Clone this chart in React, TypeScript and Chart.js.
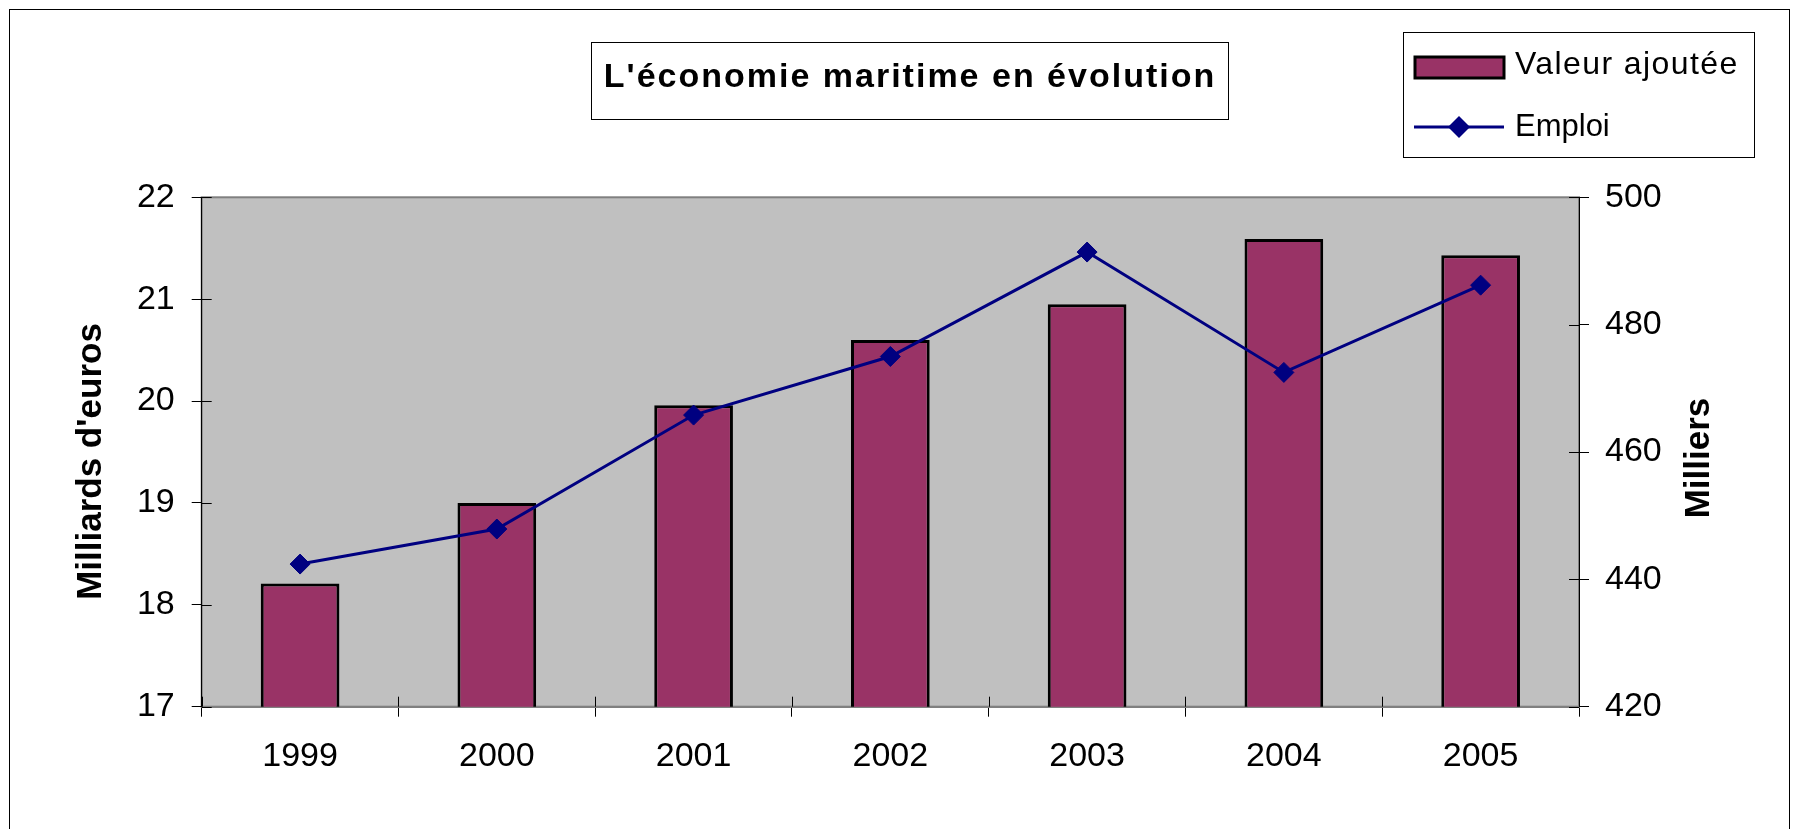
import React, { useEffect, useRef } from 'react';
import { Chart, registerables } from 'chart.js';

Chart.register(...registerables);

const years = ['1999', '2000', '2001', '2002', '2003', '2004', '2005'];
const valeurAjoutee = [18.21, 19.0, 19.96, 20.6, 20.95, 21.59, 21.43];
const emploi = [442.4, 447.9, 465.8, 475.0, 491.4, 472.5, 486.2];
const leftTicks = [17, 18, 19, 20, 21, 22];
const rightTicks = [420, 440, 460, 480, 500];
const seriesNames = ['Valeur ajoutée', 'Emploi'];
const chartTitle = "L'économie maritime en évolution";
const leftAxisTitle = "Milliards d'euros";
const rightAxisTitle = 'Milliers';

const FONT = "'Liberation Sans', Arial, sans-serif";
const BAR_COLOR = '#993366';
const LINE_COLOR = '#000080';
const PLOT_BG = '#C0C0C0';
const W = 1779;
const H = 820;

const decor = {
  id: 'decor',
  beforeDraw(chart: any) {
    const { ctx, chartArea: a } = chart;
    ctx.save();
    ctx.fillStyle = PLOT_BG;
    ctx.fillRect(a.left, a.top, a.right - a.left, a.bottom - a.top);
    ctx.strokeStyle = '#808080';
    ctx.lineWidth = 2;
    ctx.strokeRect(a.left, a.top, a.right - a.left, a.bottom - a.top);
    ctx.restore();
  },
  beforeDatasetsDraw(chart: any) {
    const { ctx, chartArea: a, scales } = chart;
    ctx.save();
    ctx.strokeStyle = '#000';
    ctx.lineWidth = 1;
    ctx.beginPath();
    scales.y.ticks.forEach((t: any) => {
      const p = Math.round(scales.y.getPixelForValue(t.value)) + 0.5;
      ctx.moveTo(a.left, p);
      ctx.lineTo(a.left + 10, p);
    });
    scales.y1.ticks.forEach((t: any) => {
      const p = Math.round(scales.y1.getPixelForValue(t.value)) + 0.5;
      ctx.moveTo(a.right - 10, p);
      ctx.lineTo(a.right, p);
    });
    for (let i = 0; i <= years.length; i++) {
      const p = Math.round(scales.x.getPixelForValue(i - 0.5)) + 0.5;
      ctx.moveTo(p, a.bottom - 10);
      ctx.lineTo(p, a.bottom);
    }
    ctx.stroke();
    ctx.restore();
  },
  afterDraw(chart: any) {
    const { ctx, scales } = chart;
    ctx.save();

    // Title box
    ctx.fillStyle = '#fff';
    ctx.fillRect(581, 32, 637, 77);
    ctx.strokeStyle = '#000';
    ctx.lineWidth = 1;
    ctx.strokeRect(581.5, 32.5, 637, 77);
    ctx.fillStyle = '#000';
    ctx.font = `bold 34px ${FONT}`;
    (ctx as any).letterSpacing = '2px';
    ctx.textAlign = 'center';
    ctx.textBaseline = 'alphabetic';
    ctx.fillText(chartTitle, 900, 77);
    (ctx as any).letterSpacing = '0px';

    // Legend box
    ctx.fillStyle = '#fff';
    ctx.fillRect(1393, 22, 351, 125);
    ctx.strokeStyle = '#000';
    ctx.lineWidth = 1;
    ctx.strokeRect(1393.5, 22.5, 351, 125);
    // bar swatch
    ctx.fillStyle = BAR_COLOR;
    ctx.fillRect(1405, 47, 89, 21);
    ctx.strokeStyle = '#000';
    ctx.lineWidth = 3;
    ctx.strokeRect(1405, 47, 89, 21);
    // line swatch
    ctx.strokeStyle = LINE_COLOR;
    ctx.lineWidth = 3;
    ctx.beginPath();
    ctx.moveTo(1404, 117);
    ctx.lineTo(1494, 117);
    ctx.stroke();
    ctx.fillStyle = LINE_COLOR;
    ctx.beginPath();
    ctx.moveTo(1449, 106);
    ctx.lineTo(1460, 117);
    ctx.lineTo(1449, 128);
    ctx.lineTo(1438, 117);
    ctx.closePath();
    ctx.fill();
    ctx.fillStyle = '#000';
    ctx.textAlign = 'left';
    ctx.font = `32px ${FONT}`;
    (ctx as any).letterSpacing = '1.4px';
    ctx.fillText(seriesNames[0], 1505, 64);
    (ctx as any).letterSpacing = '0px';
    ctx.font = `31px ${FONT}`;
    ctx.fillText(seriesNames[1], 1505, 126);

    // Axis titles
    ctx.font = `bold 35px ${FONT}`;
    ctx.textAlign = 'center';
    ctx.textBaseline = 'middle';
    const y = scales.y;
    ctx.save();
    ctx.translate(81.5, (y.top + y.bottom) / 2 + 9.5);
    ctx.rotate(-Math.PI / 2);
    ctx.fillText(leftAxisTitle, 0, 0);
    ctx.restore();

    const y1 = scales.y1;
    ctx.translate(y1.left + 120.5, (y1.top + y1.bottom) / 2 + 6);
    ctx.rotate(-Math.PI / 2);
    ctx.fillText(rightAxisTitle, 0, 0);
    ctx.restore();
  },
};

export default function App() {
  const ref = useRef<HTMLCanvasElement>(null);

  useEffect(() => {
    if (!ref.current) return;
    const tickFont = { family: FONT, size: 34 };
    const chart = new Chart(ref.current, {
      type: 'bar',
      data: {
        labels: years,
        datasets: [
          {
            type: 'line',
            label: seriesNames[1],
            data: emploi,
            yAxisID: 'y1',
            borderColor: LINE_COLOR,
            borderWidth: 3,
            pointStyle: 'rectRot',
            pointRadius: 10,
            pointBackgroundColor: LINE_COLOR,
            pointBorderColor: LINE_COLOR,
            pointBorderWidth: 1,
            tension: 0,
            order: 0,
          } as any,
          {
            type: 'bar',
            label: seriesNames[0],
            data: valeurAjoutee,
            yAxisID: 'y',
            backgroundColor: BAR_COLOR,
            borderColor: '#000',
            borderWidth: 3,
            borderSkipped: false,
            barPercentage: 0.4,
            categoryPercentage: 1.0,
            order: 1,
          },
        ],
      },
      options: {
        responsive: false,
        animation: false,
        devicePixelRatio: 1,
        layout: { padding: { top: 187.3, left: 0, right: 0, bottom: 0 } },
        plugins: {
          legend: { display: false },
          title: { display: false },
          tooltip: { enabled: false },
        },
        scales: {
          x: {
            type: 'category',
            offset: true,
            grid: {
              offset: true,
              drawOnChartArea: false,
              drawTicks: true,
              tickLength: 10,
              color: '#000',
              lineWidth: 1,
            },
            border: { display: true, color: '#808080', width: 2 },
            ticks: { font: tickFont, color: '#000', padding: 20, maxRotation: 0, autoSkip: false },
            afterFit(s: any) {
              s.height = H - 696.7;
            },
          },
          y: {
            type: 'linear',
            position: 'left',
            min: leftTicks[0],
            max: leftTicks[leftTicks.length - 1],
            ticks: { stepSize: leftTicks[1] - leftTicks[0], font: tickFont, color: '#000', padding: 17 },
            grid: { drawOnChartArea: false, tickLength: 10, color: '#000', lineWidth: 1 },
            border: { display: true, color: '#000', width: 1 },
            afterFit(s: any) {
              s.width = 191.7;
            },
          },
          y1: {
            type: 'linear',
            position: 'right',
            min: rightTicks[0],
            max: rightTicks[rightTicks.length - 1],
            ticks: { stepSize: rightTicks[1] - rightTicks[0], font: tickFont, color: '#000', padding: 16 },
            grid: { drawOnChartArea: false, tickLength: 10, color: '#000', lineWidth: 1 },
            border: { display: true, color: '#000', width: 1 },
            afterFit(s: any) {
              s.width = W - 1569;
            },
          },
        },
      },
      plugins: [decor],
    });
    return () => chart.destroy();
  }, []);

  return (
    <div
      style={{
        position: 'relative',
        left: 1,
        top: 1,
        width: W,
        height: H,
        border: '1px solid #000',
        borderBottom: 'none',
        background: '#fff',
      }}
    >
      <canvas ref={ref} width={W} height={H} style={{ display: 'block' }} />
    </div>
  );
}
